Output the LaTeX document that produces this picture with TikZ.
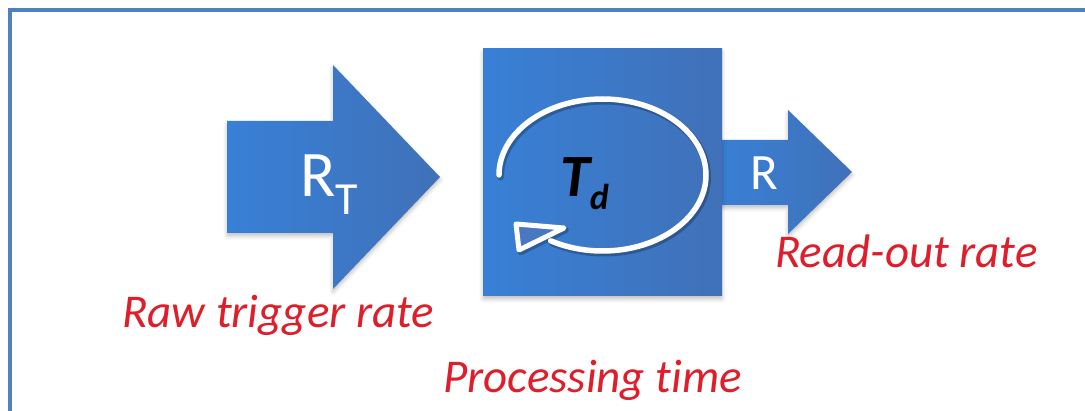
\documentclass[tikz,border=0pt]{standalone}
\usepackage{fontspec}
\setmainfont{Carlito}[RawFeature={-liga;-clig;-dlig}]
\usetikzlibrary{shadows.blur}
\definecolor{frameblue}{RGB}{79,129,189}
\definecolor{lblue}{RGB}{56,128,214}
\definecolor{dblue}{RGB}{64,113,184}
\definecolor{tribl}{RGB}{72,120,192}
\definecolor{labred}{RGB}{222,30,42}
\tikzset{
  shape fill/.style={left color=lblue, right color=dblue,
     blur shadow={shadow xshift=0pt, shadow yshift=-3pt, shadow blur radius=4pt, shadow opacity=25}},
  redlabel/.style={anchor=base west, inner sep=0pt, text=labred,
     font=\fontsize{47}{47}\selectfont\itshape},
  whitetxt/.style={anchor=base west, inner sep=0pt, text=white},
  looparc/.style={line width=5.5pt, line cap=round},
}
\begin{document}
\begin{tikzpicture}[x=1pt,y=1pt]
\useasboundingbox (0,0) rectangle (1085,410);
\clip (0,0) rectangle (1085,410);
% frame
\draw[frameblue, line width=4pt] (10,-10) -- (10,400) -- (1100,400);
% raw trigger arrow
\path[shape fill] (227,177) -- (227,289) -- (333,289) -- (333,345) -- (440,233) -- (333,121) -- (333,177) -- cycle;
% read-out arrow
\path[shape fill] (715,205) -- (715,270) -- (788,270) -- (788,300) -- (852,238) -- (788,176) -- (788,205) -- cycle;
% processing box
\path[shape fill] (483,114) rectangle (722,361);
% loop shadow
\draw[looparc, black, opacity=0.25, line width=7pt] (500.5,233) arc[start angle=180, end angle=-120, x radius=103.5, y radius=76];
\draw[black, opacity=0.25, line width=6.5pt, line join=round] (517.5,184) -- (565.5,180) -- (520.5,158) -- cycle;
% loop
\coordinate (loopstart) at (499,235);
\draw[looparc, white] (loopstart) arc[start angle=180, end angle=-120, x radius=103.5, y radius=76] coordinate (loopend);
\draw[white, line width=5pt, line join=round, fill=tribl] (516,186) -- (564,182) -- (519,160) -- cycle;
% texts
\node[whitetxt, font=\fontsize{65}{65}\selectfont] (rt) at (300,213) {R\raisebox{-18pt}{\fontsize{46}{46}\selectfont T}};
\node[whitetxt, font=\fontsize{51}{51}\selectfont] (r) at (750,220) {R};
\node[anchor=base west, inner sep=0pt, font=\fontsize{60}{60}\selectfont\bfseries\itshape] (td) at (560,213) {T\raisebox{-13pt}{\fontsize{36}{36}\selectfont d}};
\node[redlabel] (raw) at (122,82) {Raw trigger rate};
\node[redlabel] (read) at (775,142) {Read-out rate};
\node[redlabel] (proc) at (443,18) {Processing time};
\end{tikzpicture}
\end{document}
